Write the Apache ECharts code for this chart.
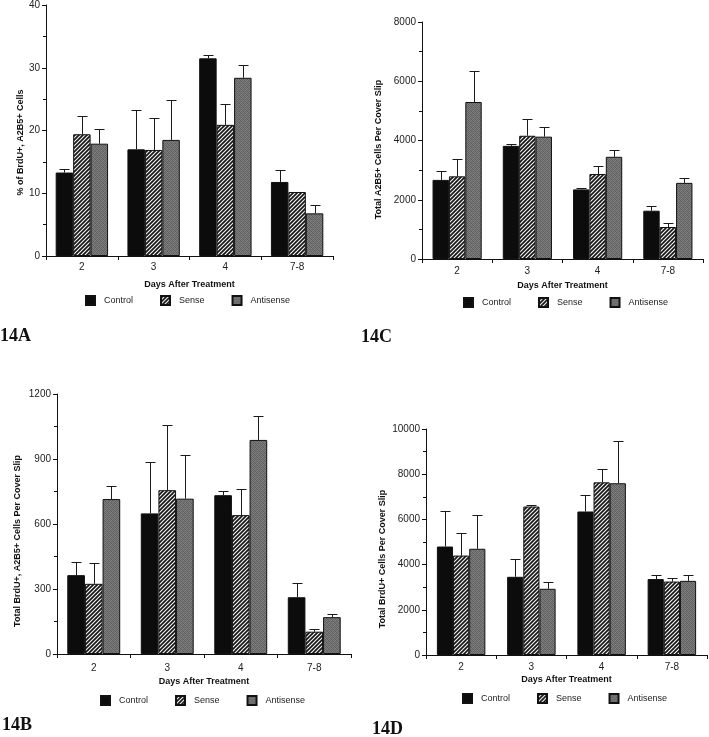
<!DOCTYPE html>
<html>
<head>
<meta charset="utf-8">
<script src="https://cdn.jsdelivr.net/npm/echarts@6/dist/echarts.min.js"></script>
<style>
html,body{margin:0;padding:0;background:#fff;}
#chart{width:709px;height:737px;}
</style>
</head>
<body>
<div id="chart"></div>
<script>
// ---------- data ----------
const categories = ['2', '3', '4', '7-8'];
const seriesNames = ['Control', 'Sense', 'Antisense'];

// Panel 14A: % of BrdU+, A2B5+ cells (bar value, top of error bar)
const aControl = [13.3, 17.0, 31.5, 11.8];
const aControlErr = [13.9, 23.2, 32.0, 13.7];
const aSense = [19.4, 16.9, 20.9, 10.2];
const aSenseErr = [22.3, 22.0, 24.2, 10.2];
const aAnti = [17.9, 18.5, 28.4, 6.8];
const aAntiErr = [20.2, 24.9, 30.4, 8.1];
const aTicks = [0, 10, 20, 30, 40];

// Panel 14C: total A2B5+ cells per cover slip
const cControl = [2670, 3820, 2350, 1630];
const cControlErr = [2970, 3870, 2380, 1790];
const cSense = [2790, 4160, 2870, 1080];
const cSenseErr = [3390, 4730, 3150, 1215];
const cAnti = [5300, 4130, 3450, 2570];
const cAntiErr = [6330, 4440, 3670, 2720];
const cTicks = [0, 2000, 4000, 6000, 8000];

// Panel 14B: total BrdU+, A2B5+ cells per cover slip
const bControl = [364, 649, 733, 262];
const bControlErr = [426, 885, 753, 327];
const bSense = [324, 756, 641, 103];
const bSenseErr = [422, 1057, 760, 116];
const bAnti = [715, 717, 988, 170];
const bAntiErr = [776, 919, 1100, 184];
const bTicks = [0, 300, 600, 900, 1200];

// Panel 14D: total BrdU+ cells per cover slip
const dControl = [4800, 3460, 6350, 3360];
const dControlErr = [6360, 4240, 7100, 3560];
const dSense = [4400, 6570, 7640, 3250];
const dSenseErr = [5380, 6650, 8220, 3390];
const dAnti = [4700, 2930, 7600, 3280];
const dAntiErr = [6190, 3250, 9450, 3560];
const dTicks = [0, 2000, 4000, 6000, 8000, 10000];

// ---------- styles ----------
function hatchCanvas() {
  const s = 4;
  const c = document.createElement('canvas');
  c.width = s; c.height = s;
  const g = c.getContext('2d');
  g.fillStyle = '#151515';
  g.fillRect(0, 0, s, s);
  g.strokeStyle = '#f2f2f2';
  g.lineWidth = 1.2;
  g.beginPath();
  g.moveTo(-1, s + 1); g.lineTo(s + 1, -1);
  g.moveTo(-1, 1); g.lineTo(1, -1);
  g.moveTo(s - 1, s + 1); g.lineTo(s + 1, s - 1);
  g.stroke();
  return c;
}
function stippleCanvas() {
  const c = document.createElement('canvas');
  c.width = 4; c.height = 4;
  const g = c.getContext('2d');
  const shades = ['#626262', '#7a7a7a', '#6c6c6c', '#808080',
                  '#747474', '#5c5c5c', '#7e7e7e', '#686868',
                  '#6a6a6a', '#848484', '#606060', '#767676',
                  '#7c7c7c', '#666666', '#787878', '#5e5e5e'];
  for (let i = 0; i < 16; i++) {
    g.fillStyle = shades[i];
    g.fillRect(i % 4, Math.floor(i / 4), 1, 1);
  }
  return c;
}
const fills = [
  '#0c0c0c',
  { image: hatchCanvas(), repeat: 'repeat' },
  { image: stippleCanvas(), repeat: 'repeat' }
];

const FONT = 'Liberation Sans, Arial, sans-serif';

const panels = [
  { key: 'A', grid: { left: 46, top: 5, width: 287, height: 251 }, ticks: aTicks, gap: 0.27,
    yName: '% of BrdU+, A2B5+ Cells', yNameGap: 16, yShift: 24, xNameGap: 24, xLabelMargin: 6,
    data: [[aControl, aControlErr], [aSense, aSenseErr], [aAnti, aAntiErr]],
    legend: { left: 85, top: 295 }, tag: { x: 0, y: 327, t: '14A' } },
  { key: 'C', grid: { left: 422, top: 22, width: 281, height: 237 }, ticks: cTicks, gap: 0.30,
    yName: 'Total A2B5+ Cells Per Cover Slip', yNameGap: 39, yShift: 18, xNameGap: 22, xLabelMargin: 7,
    data: [[cControl, cControlErr], [cSense, cSenseErr], [cAnti, cAntiErr]],
    legend: { left: 463, top: 297 }, tag: { x: 361, y: 328, t: '14C' } },
  { key: 'B', grid: { left: 57, top: 394, width: 294, height: 260 }, ticks: bTicks, gap: 0.28,
    yName: 'Total BrdU+, A2B5+ Cells Per Cover Slip', yNameGap: 35, yShift: 34, xNameGap: 23, xLabelMargin: 9,
    data: [[bControl, bControlErr], [bSense, bSenseErr], [bAnti, bAntiErr]],
    legend: { left: 100, top: 695 }, tag: { x: 2, y: 716, t: '14B' } },
  { key: 'D', grid: { left: 426, top: 429, width: 281, height: 226 }, ticks: dTicks, gap: 0.31,
    yName: 'Total BrdU+ Cells Per Cover Slip', yNameGap: 39, yShift: 34, xNameGap: 20, xLabelMargin: 7,
    data: [[dControl, dControlErr], [dSense, dSenseErr], [dAnti, dAntiErr]],
    legend: { left: 462, top: 693 }, tag: { x: 372, y: 720, t: '14D' } }
];

function errRenderer(idx, gap) {
  return function (params, api) {
    const ci = api.value(0), v = api.value(1), e = api.value(2);
    const base = api.coord([ci, v]);
    const top = api.coord([ci, e]);
    const band = api.size([1, 0])[0];
    const bw = band * (1 - gap) / 3;
    const x = Math.round(base[0] + (idx - 1) * bw) + 0.5;
    const y0 = base[1], y1 = Math.round(top[1]) + 0.5;
    if (e <= v) return null;
    const st = { stroke: '#1a1a1a', lineWidth: 1 };
    return {
      type: 'group',
      children: [
        { type: 'line', shape: { x1: x, y1: y0, x2: x, y2: y1 }, style: st },
        { type: 'line', shape: { x1: x - 5, y1: y1, x2: x + 5, y2: y1 }, style: st }
      ]
    };
  };
}

const grids = [], xAxes = [], yAxes = [], series = [], legends = [], graphics = [];
panels.forEach((p, gi) => {
  grids.push(Object.assign({ containLabel: false }, p.grid));
  xAxes.push({
    type: 'category', gridIndex: gi, data: categories,
    name: 'Days After Treatment', nameLocation: 'middle', nameGap: p.xNameGap,
    nameTextStyle: { fontFamily: FONT, fontWeight: 'bold', fontSize: 9, color: '#111' },
    axisLine: { lineStyle: { color: '#111', width: 1 } },
    axisTick: { show: true, length: 4, alignWithLabel: false, lineStyle: { color: '#111' } },
    axisLabel: { fontFamily: FONT, fontSize: 10, color: '#222', margin: p.xLabelMargin },
    splitLine: { show: false }
  });
  const t = p.ticks;
  yAxes.push({
    type: 'value', gridIndex: gi, min: t[0], max: t[t.length - 1], interval: t[1] - t[0],
    name: p.yName, nameLocation: 'middle', nameGap: p.yNameGap, nameRotate: 90,
    nameTextStyle: { fontFamily: FONT, fontWeight: 'bold', fontSize: 9, color: '#111',
                     padding: [0, p.yShift, 0, 0] },
    axisLine: { show: true, lineStyle: { color: '#111', width: 1 } },
    axisTick: { show: true, length: 4, lineStyle: { color: '#111' } },
    minorTick: { show: true, splitNumber: 2, length: 3, lineStyle: { color: '#111' } },
    axisLabel: { fontFamily: FONT, fontSize: 10, color: '#222', margin: 6,
                 formatter: function (v) { return String(v); } },
    splitLine: { show: false }
  });
  p.data.forEach((pair, si) => {
    series.push({
      name: seriesNames[si], type: 'bar', xAxisIndex: gi, yAxisIndex: gi,
      data: pair[0], barGap: 0, barCategoryGap: (p.gap * 100) + '%',
      itemStyle: { color: fills[si], borderColor: '#111', borderWidth: 1 },
      emphasis: { disabled: true }, animation: false, z: 2
    });
  });
  p.data.forEach((pair, si) => {
    series.push({
      name: 'err' + p.key + si, type: 'custom', xAxisIndex: gi, yAxisIndex: gi,
      data: pair[0].map((v, i) => [i, v, pair[1][i]]),
      encode: { x: 0, y: [1, 2] },
      renderItem: errRenderer(si, p.gap), animation: false, z: 3, silent: true
    });
  });
  legends.push({
    data: seriesNames, left: p.legend.left, top: p.legend.top, orient: 'horizontal',
    padding: 0, itemWidth: 9, itemHeight: 9, itemGap: 27, icon: 'rect',
    selectedMode: false,
    textStyle: { fontFamily: FONT, fontSize: 9, color: '#222', padding: [0, 0, 0, 4] }
  });
  graphics.push({
    type: 'text', left: p.tag.x, top: p.tag.y,
    style: { text: p.tag.t, font: 'bold 18px "Liberation Serif", "DejaVu Serif", serif', fill: '#111' }
  });
});

const chart = echarts.init(document.getElementById('chart'), null, { renderer: 'canvas' });
chart.setOption({
  animation: false,
  backgroundColor: '#fff',
  grid: grids, xAxis: xAxes, yAxis: yAxes, series: series,
  legend: legends, graphic: graphics
});
</script>
</body>
</html>
